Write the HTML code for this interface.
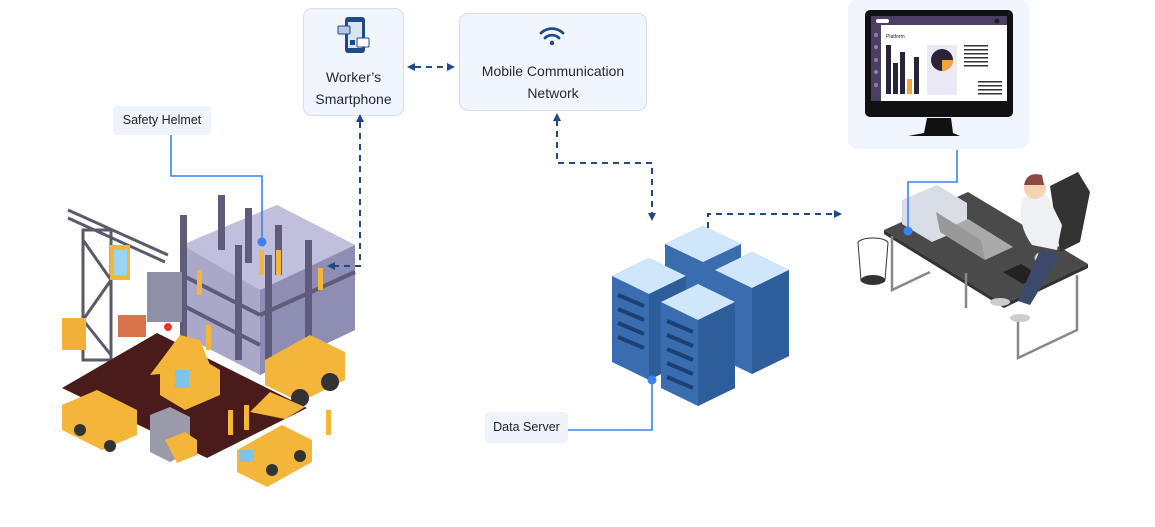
<!DOCTYPE html>
<html><head><meta charset="utf-8"><style>
html,body{margin:0;padding:0;background:#fff;}
body{width:1155px;height:527px;overflow:hidden;position:relative;font-family:"Liberation Sans",sans-serif;}
.box{position:absolute;background:#f1f5fd;border:1px solid #d5dff0;border-radius:9px;box-sizing:border-box;color:#1f2937;text-align:center;}
.lbl{position:absolute;background:#eef3fc;border-radius:4px;font-size:12.5px;color:#222;text-align:center;box-sizing:border-box;}
svg{position:absolute;left:0;top:0;}
</style></head><body>
<svg width="1155" height="527" viewBox="0 0 1155 527">
<!-- monitor panel -->
<rect x="848" y="0" width="181" height="149" rx="9" fill="#f0f5fe"/>
<rect x="865" y="10" width="148" height="107" rx="5" fill="#111"/>
<rect x="871" y="16" width="136" height="85" fill="#fff"/>
<rect x="871" y="16" width="136" height="9" fill="#4b3f66"/>
<rect x="871" y="16" width="10" height="85" fill="#4b3f66"/>
<rect x="876" y="19" width="13" height="4" rx="2" fill="#fff"/>
<circle cx="997" cy="21" r="2.5" fill="#222"/>
<g fill="#8b83a0"><circle cx="876" cy="35" r="2"/><circle cx="876" cy="47" r="2"/><circle cx="876" cy="60" r="2"/><circle cx="876" cy="72" r="2"/><circle cx="876" cy="85" r="2"/></g>
<text x="886" y="38" font-size="5" fill="#222">Platform</text>
<rect x="886" y="45" width="5" height="49" fill="#2a2438"/><rect x="893" y="63" width="5" height="31" fill="#2a2438"/><rect x="900" y="52" width="5" height="42" fill="#2a2438"/><rect x="907" y="79" width="5" height="15" fill="#f0a63a"/><rect x="914" y="57" width="5" height="37" fill="#2a2438"/>
<rect x="927" y="45" width="30" height="50" fill="#ece8f5"/>
<circle cx="942" cy="60" r="11" fill="#2a2438"/><path d="M942,60 h11 a11,11 0 0 1 -11,11 z" fill="#f0a63a"/>
<g fill="#333"><rect x="964" y="45" width="24" height="1.5"/><rect x="964" y="49" width="24" height="1.5"/><rect x="964" y="53" width="24" height="1.5"/><rect x="964" y="57" width="24" height="1.5"/><rect x="964" y="61" width="24" height="1.5"/><rect x="964" y="65" width="24" height="1.5"/><rect x="978" y="81" width="24" height="1.5"/><rect x="978" y="85" width="24" height="1.5"/><rect x="978" y="89" width="24" height="1.5"/><rect x="978" y="93" width="24" height="1.5"/></g>
<path d="M927,118 L951,118 L953,133 L960,136 L908,136 L924,133 z" fill="#111"/>
<!-- servers -->
<g>
<path d="M665,244 l38,-18 l38,18 v55 l-38,18 l-38,-18z" fill="#3a6db0"/><path d="M665,244 l38,-18 l38,18 l-38,18z" fill="#cfe6fb"/>
<path d="M612,276 l37,-18 l37,18 v86 l-37,18 l-37,-18z" fill="#3a6db0"/><path d="M612,276 l37,-18 l37,18 l-37,18z" fill="#cfe6fb"/><path d="M649,294 l37,-18 v86 l-37,18z" fill="#2e5d9c"/>
<path d="M715,270 l37,-18 l37,18 v86 l-37,18 l-37,-18z" fill="#3a6db0"/><path d="M715,270 l37,-18 l37,18 l-37,18z" fill="#cfe6fb"/><path d="M752,288 l37,-18 v86 l-37,18z" fill="#2e5d9c"/>
<path d="M661,302 l37,-18 l37,18 v86 l-37,18 l-37,-18z" fill="#3a6db0"/><path d="M661,302 l37,-18 l37,18 l-37,18z" fill="#cfe6fb"/><path d="M698,320 l37,-18 v86 l-37,18z" fill="#2e5d9c"/>
<g stroke="#1d3f73" stroke-width="4"><line x1="618" y1="295" x2="644" y2="306"/><line x1="618" y1="309" x2="644" y2="320"/><line x1="618" y1="323" x2="644" y2="334"/><line x1="618" y1="337" x2="644" y2="348"/><line x1="667" y1="321" x2="693" y2="332"/><line x1="667" y1="335" x2="693" y2="346"/><line x1="667" y1="349" x2="693" y2="360"/><line x1="667" y1="363" x2="693" y2="374"/><line x1="667" y1="377" x2="693" y2="388"/></g>
</g>
<!-- desk -->
<g>
<path d="M858,243 a15,5 0 0 1 30,0 l-3,37 a12,4 0 0 1 -24,0z" fill="#fff" stroke="#333" stroke-width="1"/><ellipse cx="873" cy="280" rx="12" ry="5" fill="#333"/>
<path d="M884,230 l84,-38 l120,72 l-84,40z" fill="#4a4a4a"/>
<path d="M884,230 v4 l120,74 l84,-40 v-4 l-84,40z" fill="#333"/>
<g stroke="#888" stroke-width="2.5" fill="none"><polyline points="892,236 892,290 930,272"/><polyline points="1018,318 1018,358 1077,330 1077,275"/><polyline points="966,273 966,308"/></g>
<path d="M902,200 l35,-15 l30,18 v24 l-35,15 l-30,-18z" fill="#d8dde6"/>
<path d="M940,232 l28,-13 l45,28 l-28,13z" fill="#aaa"/><path d="M940,232 l-4,-20 l45,28 l4,20z" fill="#999"/>
<path d="M1003,272 l18,-8 l20,12 l-18,8z" fill="#222"/>
<circle cx="1040" cy="258" r="5" fill="#fff" stroke="#aaa"/>
<path d="M1050,186 l28,-14 l12,20 l-10,50 l-20,10z" fill="#333"/>
<path d="M1022,200 q10,-10 25,-5 l15,30 l-5,25 l-25,-5 q-15,-20 -10,-45z" fill="#eef0f3"/>
<circle cx="1035" cy="188" r="11" fill="#f6d2b5"/><path d="M1024,185 q3,-14 18,-10 l2,10z" fill="#8b4a3f"/>
<path d="M1040,250 l20,5 l-30,50 l-12,-4z" fill="#3b4a6b"/>
<ellipse cx="1000" cy="302" rx="10" ry="4" fill="#ccc"/><ellipse cx="1020" cy="318" rx="10" ry="4" fill="#ccc"/>
</g>
<!-- construction -->
<g>
<path d="M182,245 l95,-40 l78,40 v85 l-95,45 l-78,-40z" fill="#a9a8c8"/>
<path d="M260,290 l95,-45 v85 l-95,45z" fill="#8e8db3"/>
<path d="M182,245 l95,-40 l78,40 l-95,45z" fill="#c0bfdc"/>
<g fill="#5e5c7a"><rect x="180" y="215" width="7" height="125"/><rect x="218" y="195" width="7" height="55"/><rect x="245" y="208" width="7" height="55"/><rect x="275" y="225" width="7" height="50"/><rect x="305" y="240" width="7" height="110"/><rect x="235" y="245" width="7" height="115"/><rect x="265" y="255" width="7" height="115"/></g>
<g stroke="#5e5c7a" stroke-width="4"><line x1="182" y1="275" x2="260" y2="315"/><line x1="182" y1="305" x2="260" y2="345"/><line x1="260" y1="315" x2="355" y2="272"/></g>
<rect x="147" y="272" width="35" height="50" fill="#8f8fa8"/>
<g stroke="#5a5a6a" stroke-width="3" fill="none"><rect x="83" y="230" width="28" height="130"/><line x1="83" y1="240" x2="111" y2="280"/><line x1="111" y1="280" x2="83" y2="320"/><line x1="83" y1="320" x2="111" y2="355"/><line x1="68" y1="210" x2="168" y2="255"/><line x1="68" y1="218" x2="165" y2="262"/></g>
<rect x="110" y="245" width="20" height="35" fill="#f4b63a"/><rect x="114" y="250" width="13" height="25" fill="#9ad3f3"/>
<rect x="62" y="318" width="24" height="32" fill="#f2b23a"/><rect x="118" y="315" width="28" height="22" fill="#d8744c"/>
<circle cx="168" cy="327" r="4" fill="#e33"/>
<path d="M62,388 l95,-55 l150,75 l-100,50z" fill="#4a1b1b"/>
<path d="M150,375 l30,-40 l20,5 l10,25 l-10,5z" fill="#f4b63a"/>
<path d="M160,370 l35,-15 l25,15 v25 l-35,15 l-25,-15z" fill="#f4b63a"/><rect x="175" y="370" width="14" height="18" fill="#7fc3ea"/>
<path d="M62,405 l35,-15 l40,20 v25 l-35,15 l-40,-20z" fill="#f4b63a"/><circle cx="80" cy="430" r="6" fill="#333"/><circle cx="110" cy="446" r="6" fill="#333"/>
<path d="M265,360 l45,-25 l35,17 v28 l-45,22 l-35,-17z" fill="#f4b63a"/><circle cx="330" cy="382" r="9" fill="#333"/><circle cx="300" cy="398" r="9" fill="#333"/>
<path d="M250,412 l20,-20 l35,15 l-20,12z" fill="#f4b63a"/>
<path d="M237,450 l45,-25 l30,15 v22 l-45,25 l-30,-15z" fill="#f4b63a"/><rect x="240" y="450" width="14" height="12" fill="#7fc3ea"/><circle cx="272" cy="470" r="6" fill="#333"/><circle cx="300" cy="456" r="6" fill="#333"/>
<path d="M150,415 l20,-8 l20,10 v35 l-20,10 l-20,-10z" fill="#9a9aa8"/><path d="M165,440 l20,-8 l12,8 v15 l-20,8 z" fill="#f4b63a"/>
<g fill="#f4b63a"><rect x="259" y="250" width="5" height="25"/><rect x="276" y="250" width="5" height="25"/><rect x="318" y="268" width="5" height="22"/><rect x="197" y="270" width="5" height="25"/><rect x="206" y="325" width="5" height="25"/><rect x="228" y="410" width="5" height="25"/><rect x="244" y="405" width="5" height="25"/><rect x="326" y="410" width="5" height="25"/></g>
</g>
</svg>
<div class="box" style="left:303px;top:8px;width:101px;height:108px;">
<svg width="36" height="40" viewBox="0 0 36 40" style="left:33px;top:7px;">
<rect x="8" y="1" width="20" height="36" rx="3" fill="#1f4a8a"/><rect x="11" y="6" width="14" height="26" fill="#dbe6f5"/>
<rect x="1" y="10" width="12" height="8" rx="1" fill="#b9c9e4" stroke="#1f4a8a"/><rect x="20" y="22" width="12" height="9" rx="1" fill="#fff" stroke="#1f4a8a"/><rect x="13" y="24" width="5" height="5" fill="#1f4a8a"/>
</svg>
<div style="position:absolute;top:57px;width:100%;font-size:14px;line-height:22px;">Worker’s<br>Smartphone</div>
</div>
<div class="box" style="left:459px;top:13px;width:188px;height:98px;">
<div style="position:absolute;top:46px;width:100%;font-size:14px;line-height:22px;">Mobile Communication<br>Network</div>
</div>
<div class="lbl" style="left:113px;top:106px;width:98px;height:29px;line-height:29px;">Safety Helmet</div>
<div class="lbl" style="left:485px;top:412px;width:83px;height:31px;line-height:31px;">Data Server</div>
<!-- top overlay: connectors + wifi -->
<svg width="1155" height="527" viewBox="0 0 1155 527">
<g stroke="#3b82f6" stroke-width="1.6" fill="none">
<polyline points="171,135 171,176 262,176 262,242"/>
<polyline points="957,150 957,182 908,182 908,231"/>
<polyline points="568,430 652,430 652,380"/>
</g>
<g fill="#3b82f6"><circle cx="262" cy="242" r="4.5"/><circle cx="908" cy="231" r="4.5"/><circle cx="652" cy="380" r="4.5"/></g>
<g stroke="#1f4a8a" stroke-width="2" fill="none" stroke-dasharray="6,5">
<line x1="415" y1="67" x2="448" y2="67"/>
<polyline points="360,122 360,266 333,266"/>
<polyline points="557,120 557,163 652,163 652,214"/>
<polyline points="708,228 708,214 834,214"/>
</g>
<g fill="#1f4a8a">
<path d="M407,67 l8,-4 v8 z"/><path d="M455,67 l-8,-4 v8 z"/>
<path d="M360,114 l-4,8 h8 z"/><path d="M327,266 l8,-4 v8 z"/>
<path d="M557,113 l-4,8 h8 z"/><path d="M652,221 l-4,-8 h8 z"/>
<path d="M842,214 l-8,-4 v8 z"/>
</g>
<g fill="none" stroke="#1f4a8a" stroke-width="2.8" stroke-linecap="round"><path d="M541,33 a16,16 0 0 1 22,0"/><path d="M545,38 a10,10 0 0 1 14,0"/></g><circle cx="552" cy="43" r="2.2" fill="#1f4a8a"/>
</svg>
</body></html>
